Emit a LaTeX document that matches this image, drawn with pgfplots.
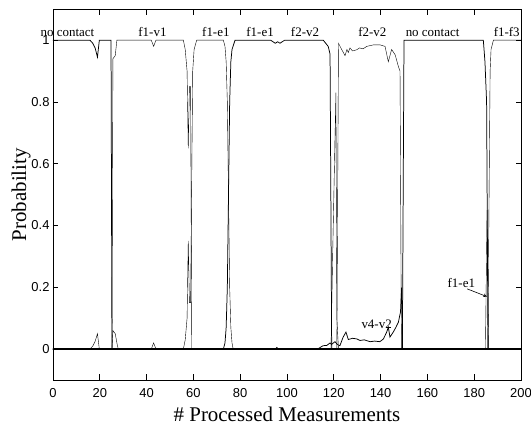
\documentclass[border=0pt]{standalone}
\usepackage{fontspec}
\setmainfont{Liberation Serif}
\newfontfamily\arial{Liberation Sans}
\usepackage{pgfplots}
\pgfplotsset{compat=1.18}

\begin{document}
\begin{tikzpicture}
\begin{axis}[
  scale only axis,
  width=468bp, height=370.7bp,
  xmin=0, xmax=200, ymin=-0.1, ymax=1.1,
  xtick={0,20,...,200},
  ytick={0,0.2,0.4,0.6,0.8,1},
  tick align=inside,
  major tick length=5.5bp,
  axis line style={line width=0.9pt},
  every tick/.style={line width=0.7pt, black},
  /pgf/number format/assume math mode=true,
  ticklabel style={font=\arial\fontsize{13}{14}\selectfont},
  xticklabel style={yshift=-5bp},
  xlabel={\# Processed Measurements},
  ylabel={Probability},
  label style={font=\fontsize{21}{23}\selectfont},
  xlabel style={yshift=-2bp},
  ylabel style={yshift=-6bp},
  clip=false,
  cycle list={{black, line width=0.75pt, mark=none}},
]
% thick zero baseline (all states near 0)
\addplot[black, line width=1.6pt, mark=none] coordinates {(0,0) (200,0)};
% no contact
\addplot coordinates {(0,1) (15.8,1) (17,0.99) (18,0.975) (19,0.945) (19.8,1) (24.8,1) (25.2,0)
  (149.3,0) (150,1) (183.9,1) (184.6,0.93) (185.3,0.8) (185.9,0) (200,0)};
% f1-v1
\addplot coordinates {(0,0) (25.2,0) (25.6,0.94) (26.6,0.95) (27.3,1) (42,1) (43,0.98) (44,1)
  (55.7,1) (56.5,0.97) (57.3,0.9) (57.8,0.65) (58.3,0.85) (58.8,0.85) (59.3,0) (200,0)};
% f1-e1
\addplot coordinates {(0,0) (55.7,0) (56.5,0.03) (57.3,0.1) (57.8,0.35) (58.3,0.15) (58.8,0.15)
  (59.7,0.9) (60.3,0.97) (61.4,1) (72.8,1) (73.5,0.98) (74,0.93) (74.5,0.8) (75,0.5) (75.5,0.2)
  (76,0.07) (76.5,0.02) (77,0) (184.8,0) (185.5,0.45) (186.2,0) (200,0)};
% f1-e1 f2-v2
\addplot coordinates {(0,0) (72.8,0) (73.5,0.02) (74,0.07) (74.5,0.2) (75,0.5) (75.5,0.8) (76,0.93)
  (76.5,0.97) (77.8,1) (93,1) (94,0.995) (95,0.99) (96,0.995) (97,0.99) (98,0.995) (99,1)
  (115.5,1) (117.6,0.98) (118.4,0.955) (119.1,0) (200,0)};
% transient state around 120
\addplot coordinates {(0,0) (118.8,0) (119.5,0.3) (120.9,0.83) (121.3,0.1) (122,0) (200,0)};
% f2-v2
\addplot coordinates {(0,0) (121.3,0) (122,0.99) (123,0.975) (124.8,0.95) (125.6,0.97) (126.2,0.96)
  (126.9,0.975) (128,0.965) (129.8,0.969) (131,0.975) (132.5,0.972) (134.1,0.98) (137,0.985)
  (139.7,0.985) (141.9,0.98) (143.3,0.93) (144.7,0.97) (146.2,0.953) (147.6,0.915) (148.3,0.9)
  (148.9,0) (200,0)};
% v4-v2
\addplot coordinates {(0,0) (113,0) (115.4,0.011) (117,0.012) (118.4,0.02) (119,0.015) (120.5,0.024)
  (121.5,0.015) (122.6,0.011) (124,0.039) (125.2,0.055) (126.2,0.031) (128,0.035) (129.8,0.033)
  (131.2,0.028) (133,0.03) (135.5,0.024) (137.5,0.026) (139.7,0.024) (141.2,0.033) (142.6,0.055)
  (143.3,0.071) (144,0.039) (145.4,0.055) (146.5,0.07) (147.6,0.087) (148.5,0.12) (149,0.2)
  (149.4,0) (200,0)};
% f1-f3
\addplot coordinates {(0,0) (185.8,0) (186.8,0.9) (187.2,0.97) (188.2,1) (200,1)};
% small residual states
\addplot coordinates {(0,0) (15.8,0) (17,0.01) (18,0.025) (19,0.05) (19.8,0) (25.2,0) (25.6,0.06)
  (26.6,0.05) (27.3,0.02) (27.9,0) (42,0) (43,0.02) (44,0) (95,0) (95.6,0.006) (96.5,0) (200,0)};

\begin{scope}[every node/.style={font=\fontsize{13}{14}\selectfont, inner sep=0pt, anchor=base}]
\node at (axis cs:6.2,1.012) {no contact};
\node at (axis cs:42.5,1.012) {f1-v1};
\node at (axis cs:69.6,1.012) {f1-e1};
\node at (axis cs:88.5,1.012) {f1-e1};
\node at (axis cs:107.7,1.012) {f2-v2};
\node at (axis cs:136.5,1.012) {f2-v2};
\node at (axis cs:162.2,1.012) {no contact};
\node at (axis cs:193.9,1.012) {f1-f3};
\node at (axis cs:138.3,0.067) {v4-v2};
\node at (axis cs:174.5,0.2) {f1-e1};
\end{scope}
\draw[-stealth, line width=0.6pt] (axis cs:177,0.195) -- (axis cs:185.4,0.17);
\end{axis}
\pgfresetboundingbox
\path ([shift={(-53bp,-45bp)}]current axis.south west) rectangle ([shift={(10bp,9.3bp)}]current axis.north east);
\end{tikzpicture}
\end{document}
